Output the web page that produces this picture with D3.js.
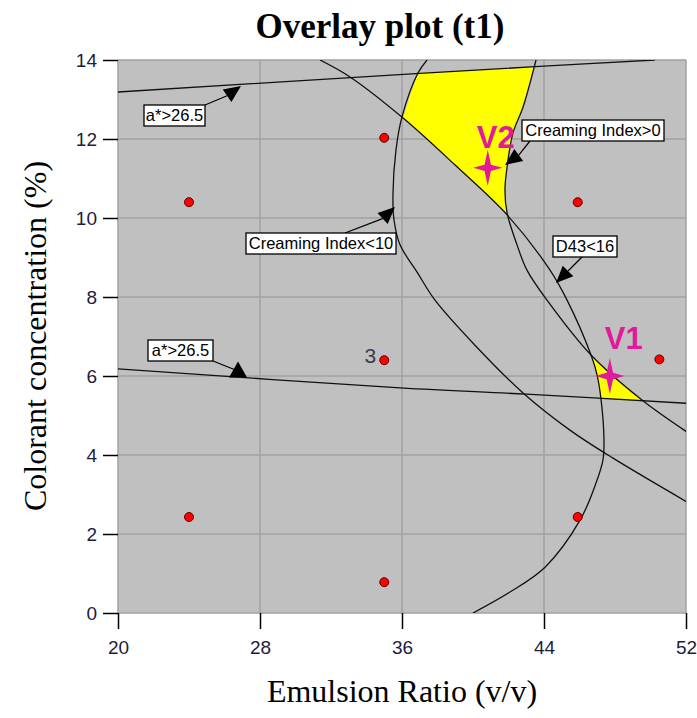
<!DOCTYPE html>
<html><head><meta charset="utf-8">
<script src="https://cdn.jsdelivr.net/npm/d3@7"></script>
<style>body{margin:0;background:#fff}svg{display:block}</style>
</head><body>
<svg id="chart" width="697" height="718"></svg>
<script>
// ---------- data ----------
const xTicks = [20, 28, 36, 44, 52];
const yTicks = [0, 2, 4, 6, 8, 10, 12, 14];

const ptX = [24, 24, 35, 35, 35, 45.9, 45.9, 50.5];
const ptY = [10.4, 2.43, 12.03, 6.4, 0.78, 10.4, 2.43, 6.42];
const ptLabel = ["", "", "", "3", "", "", "", ""];

const aUpperX = [20, 37.0, 43.5, 50.25];
const aUpperY = [13.19, 13.66, 13.83, 14.0];
const aLowerX = [20, 35.9, 43.0, 52];
const aLowerY = [6.18, 5.70, 5.54, 5.31];
const ci10X = [37.41, 36.90, 36.00, 35.66, 35.49, 35.55, 35.89, 36.85, 37.86, 40.11, 42.82, 45.46, 47.89, 52.06];
const ci10Y = [14.0, 13.67, 12.56, 11.72, 10.58, 9.95, 9.32, 8.63, 7.92, 6.78, 5.57, 4.63, 3.92, 2.81];
const d43X = [31.38, 33.07, 36.06, 38.99, 41.92, 44.34, 45.30, 46.65, 46.99, 47.21, 47.38, 47.32, 46.93, 46.03, 44.06, 42.08, 40.0];
const d43Y = [14.0, 13.57, 12.53, 11.34, 10.08, 8.68, 7.92, 6.53, 6.03, 5.42, 4.38, 3.87, 3.29, 2.35, 1.16, 0.53, 0.0];
const ci0X = [43.55, 42.82, 42.25, 41.92, 41.80, 41.92, 42.48, 43.04, 44.17, 46.65, 49.52, 52.06];
const ci0Y = [14.0, 12.81, 12.15, 11.29, 10.71, 10.13, 9.32, 8.68, 7.92, 6.53, 5.39, 4.58];

const v2X = [36.90, 43.44, 42.82, 42.25, 41.92, 41.80, 41.92, 38.99, 36.06, 36.45];
const v2Y = [13.67, 13.82, 12.81, 12.15, 11.29, 10.71, 10.13, 11.34, 12.53, 13.10];
const v1X = [46.65, 49.52, 47.21, 46.99];
const v1Y = [6.53, 5.38, 5.44, 6.03];

const starX = [47.71, 40.83];
const starY = [6.0, 11.27];
const starText = ["V1", "V2"];

const flagText = ["a*>26.5", "a*>26.5", "Creaming Index>0", "Creaming Index<10", "D43<16"];

// ---------- layout ----------
const L = 118, R = 686, T = 60, B = 613;
const x = d3.scaleLinear().domain([20, 52]).range([L, R]);
const y = d3.scaleLinear().domain([0, 14]).range([B, T]);
const svg = d3.select("#chart");
const zip = (a, b) => a.map((v, i) => [v, b[i]]);

svg.append("defs").append("clipPath").attr("id", "clip")
  .append("rect").attr("x", L).attr("y", T).attr("width", R - L).attr("height", B - T);

svg.append("rect").attr("x", L).attr("y", T).attr("width", R - L).attr("height", B - T)
  .attr("fill", "#C0C0C0");

// grid
const grid = svg.append("g").attr("stroke", "#A2A2A2").attr("stroke-width", 1.5);
grid.selectAll(".gx").data(xTicks).join("line")
  .attr("x1", d => x(d)).attr("x2", d => x(d)).attr("y1", T).attr("y2", B);
grid.selectAll(".gy").data(yTicks).join("line")
  .attr("y1", d => y(d)).attr("y2", d => y(d)).attr("x1", L).attr("x2", R);

// axes
const tickFont = "'Liberation Sans', Arial, sans-serif";
const yAxis = svg.append("g").attr("transform", `translate(${L},0)`)
  .call(d3.axisLeft(y).tickValues(yTicks).tickSize(15).tickPadding(6).tickFormat(d3.format("d")));
const xAxis = svg.append("g").attr("transform", `translate(0,${B})`)
  .call(d3.axisBottom(x).tickValues(xTicks).tickSize(16).tickPadding(12).tickFormat(d3.format("d")));
[xAxis, yAxis].forEach(g => {
  g.select(".domain").remove();
  g.selectAll("line").attr("stroke", "#000").attr("stroke-width", 1.5);
  g.selectAll("text").attr("font-family", tickFont).attr("font-size", 19).attr("fill", "#1c1c40");
});

const plot = svg.append("g").attr("clip-path", "url(#clip)");

// feasible regions
const poly = d3.line().x(d => x(d[0])).y(d => y(d[1])).curve(d3.curveLinearClosed);
plot.selectAll(".reg").data([zip(v2X, v2Y), zip(v1X, v1Y)]).join("path")
  .attr("d", poly).attr("fill", "#FFFF00").attr("stroke", "none");

// contour lines
const line = d3.line().x(d => x(d[0])).y(d => y(d[1])).curve(d3.curveCatmullRom.alpha(0.5));
plot.selectAll(".ct").data([zip(aUpperX, aUpperY), zip(aLowerX, aLowerY), zip(ci10X, ci10Y), zip(d43X, d43Y), zip(ci0X, ci0Y)])
  .join("path").attr("d", line).attr("fill", "none").attr("stroke", "#111").attr("stroke-width", 1.3);

// design points
plot.selectAll(".pt").data(ptX.map((v, i) => i)).join("circle")
  .attr("cx", i => x(ptX[i])).attr("cy", i => y(ptY[i])).attr("r", 4.5)
  .attr("fill", "#FF0000").attr("stroke", "#5a0000").attr("stroke-width", 1);
svg.selectAll(".ptl").data(ptX.map((v, i) => i).filter(i => ptLabel[i])).join("text")
  .attr("x", i => x(ptX[i]) - 8).attr("y", i => y(ptY[i]) + 3)
  .attr("text-anchor", "end").attr("font-family", tickFont).attr("font-size", 21)
  .attr("fill", "#3a3a4e").text(i => ptLabel[i]);

// flags (pixel layout): box left, top, width; line start; arrow apex; head direction (deg)
const flagLayout = [
  {bx: 144, by: 105, bw: 61, sx: 205, sy: 105, ax: 241, ay: 86, dir: -35, hl: 17, hw: 7.5},
  {bx: 148, by: 340, bw: 65, sx: 213, sy: 361, ax: 238, ay: 361.5, dir: -90, hl: 16, hw: 9, lx: 238, ly: 371},
  {bx: 522, by: 120, bw: 142, sx: 530, sy: 141, ax: 505, ay: 165, dir: 144, hl: 17, hw: 7.5},
  {bx: 246, by: 233, bw: 150, sx: 345, sy: 233, ax: 395, ay: 207, dir: -43, hl: 17, hw: 7.5},
  {bx: 553, by: 236, bw: 64, sx: 583, sy: 256, ax: 556, ay: 283, dir: 135, hl: 17, hw: 7.5}
];
const flags = svg.append("g");
flagLayout.forEach((f, i) => {
  const r = f.dir * Math.PI / 180, c = Math.cos(r), s = Math.sin(r);
  const bxc = f.ax - f.hl * c, byc = f.ay - f.hl * s;
  const ex = f.lx !== undefined ? f.lx : bxc, ey = f.ly !== undefined ? f.ly : byc;
  flags.append("line").attr("x1", f.sx).attr("y1", f.sy).attr("x2", ex).attr("y2", ey)
    .attr("stroke", "#000").attr("stroke-width", 1.2);
  flags.append("path").attr("d",
    `M${f.ax},${f.ay}L${bxc - f.hw * s},${byc + f.hw * c}L${bxc + f.hw * s},${byc - f.hw * c}Z`)
    .attr("fill", "#000");
  flags.append("rect").attr("x", f.bx).attr("y", f.by).attr("width", f.bw).attr("height", 21)
    .attr("fill", "#fff").attr("stroke", "#000").attr("stroke-width", 1.3);
  flags.append("text").attr("x", f.bx + f.bw / 2).attr("y", f.by + 16)
    .attr("text-anchor", "middle").attr("font-family", tickFont).attr("font-size", 16.5)
    .attr("fill", "#000").text(flagText[i]);
});

// optimum stars
const starPath = (cx, cy) => {
  const rx = 14.5, ry = 18, ri = 3.2;
  return `M${cx},${cy - ry}L${cx + ri},${cy - ri}L${cx + rx},${cy}L${cx + ri},${cy + ri}` +
         `L${cx},${cy + ry}L${cx - ri},${cy + ri}L${cx - rx},${cy}L${cx - ri},${cy - ri}Z`;
};
const starCol = "#E2199A";
const starLabelPos = [{dx: -5, dy: -27}, {dx: -11, dy: -19.5}];
starX.forEach((sx, i) => {
  svg.append("path").attr("d", starPath(x(sx), y(starY[i]))).attr("fill", starCol);
  svg.append("text").attr("x", x(sx) + starLabelPos[i].dx).attr("y", y(starY[i]) + starLabelPos[i].dy)
    .attr("font-family", tickFont).attr("font-weight", "bold").attr("font-size", 31)
    .attr("fill", starCol).text(starText[i]);
});

// titles
const serif = "'Liberation Serif', 'Times New Roman', serif";
svg.append("text").attr("x", 380).attr("y", 38).attr("text-anchor", "middle")
  .attr("font-family", serif).attr("font-weight", "bold").attr("font-size", 35).text("Overlay plot (t1)");
svg.append("text").attr("x", 402).attr("y", 702).attr("text-anchor", "middle")
  .attr("font-family", serif).attr("font-size", 32).text("Emulsion Ratio (v/v)");
svg.append("text").attr("transform", "translate(46,336) rotate(-90)").attr("text-anchor", "middle")
  .attr("font-family", serif).attr("font-size", 32).text("Colorant concentration (%)");
</script>
</body></html>
